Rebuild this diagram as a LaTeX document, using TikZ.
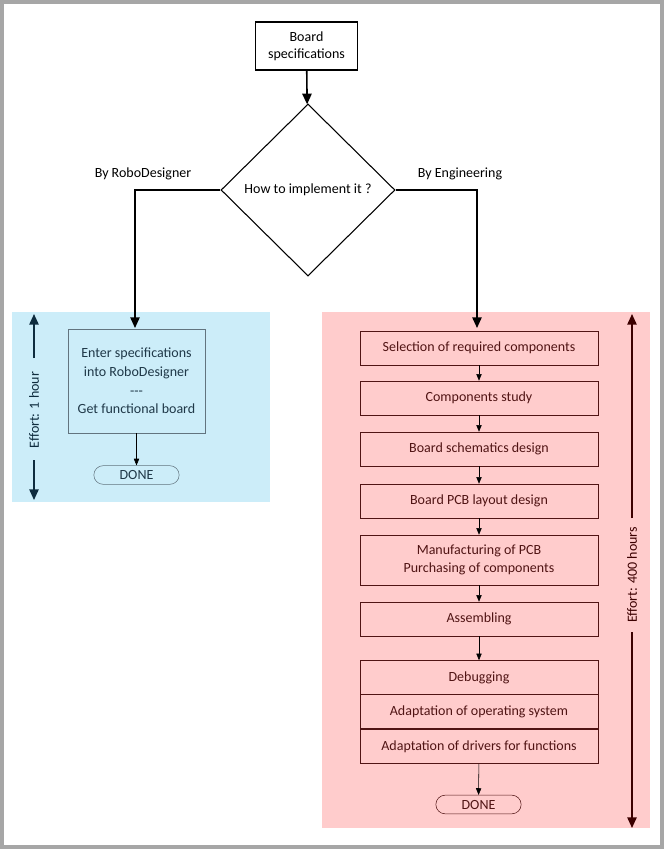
\documentclass[tikz,border=0pt]{standalone}
\usepackage{fontspec}
\setmainfont{Carlito}
\usetikzlibrary{shapes.geometric,arrows.meta}
\definecolor{bluebg}{RGB}{204,237,249}
\definecolor{pinkbg}{RGB}{255,204,204}
\definecolor{bluetxt}{RGB}{31,56,72}
\definecolor{redtxt}{RGB}{80,20,20}
\definecolor{effblue}{RGB}{14,44,62}
\definecolor{effred}{RGB}{60,0,0}
\begin{document}
\begin{tikzpicture}
	[x=0.75pt, y=-0.75pt, font=\fontsize{10.5}{13}\selectfont,
	 main/.style ={draw, thick, align=center, inner sep=0pt},
	 stage/.style ={draw=redtxt, text=redtxt, align=center, inner sep=0pt, minimum width=178.5pt, minimum height=25.5pt},
	 done/.style ={draw, rounded corners=7pt, inner sep=0pt, minimum width=64pt, minimum height=14pt},
	 thin arrow/.style ={-{Triangle[length=5pt,width=4pt]}},
	 thick arrow/.style ={very thick, -{Triangle[length=8pt,width=7pt]}}]
	\useasboundingbox (0,0) rectangle (665,850);
	\draw[gray!70, line width=2.5pt] (2,2) rectangle (662,847);
	% top part
	\node[main, minimum width=77pt, minimum height=36pt] (spec) at (306.5,46) {Board\\specifications};
	\node[main, diamond, minimum width=130.5pt, minimum height=129pt] (how) at (308,190) {How to implement it ?};
	\draw[thick arrow] (spec) -- (how);
	\fill[bluebg] (12,312) rectangle (270,502);
	\fill[pinkbg] (322,312) rectangle (650,828);
	\coordinate (lt) at (135,328);
	\coordinate (rt) at (477,328);
	\draw[thick arrow] (how.west) -| (lt);
	\draw[thick arrow] (how.east) -| (rt);
	\node at (143,174) {By RoboDesigner};
	\node at (460,174) {By Engineering};
	% RoboDesigner side
	\node[draw=bluetxt!70, text=bluetxt, align=center, minimum width=102.75pt, minimum height=78pt, font=\fontsize{10.5}{14}\selectfont] (enter) at (136.5,381) {Enter specifications\\into RoboDesigner\\{-}{-}{-}\\Get functional board};
	\node[done, draw=bluetxt!70, text=bluetxt] (done1) at (136.5,475) {DONE};
	\draw[thin arrow] (enter) -- (done1);
	\node[rotate=90, text=effblue] (eff1) at (34,410) {Effort: 1 hour};
	\coordinate (e1a) at (34,314);
	\coordinate (e1b) at (34,500);
	\draw[effblue, very thick, -{Triangle[length=8pt,width=7pt]}] (34,358) -- (e1a);
	\draw[effblue, very thick, -{Triangle[length=8pt,width=7pt]}] (34,460) -- (e1b);
	% Engineering side
	\node[stage] (s1) at (479,348) {Selection of required components};
	\node[stage] (s2) at (479,398) {Components study};
	\node[stage] (s3) at (479,449) {Board schematics design};
	\node[stage] (s4) at (479,501) {Board PCB layout design};
	\node[stage, minimum height=37.5pt] (s5) at (479,560) {Manufacturing of PCB\\Purchasing of components};
	\node[stage] (s6) at (479,619) {Assembling};
	\node[stage] (s7) at (479,677.5) {Debugging};
	\node[stage] (s8) at (479,711.5) {Adaptation of operating system};
	\node[stage] (s9) at (479,746.5) {Adaptation of drivers for functions};
	\node[done, draw=redtxt, text=redtxt] (done2) at (478.5,804.5) {DONE};
	\foreach \a/\b in {s1/s2, s2/s3, s3/s4, s4/s5, s5/s6, s6/s7, s9/done2}
		\draw[thin arrow] (\a) -- (\b);
	\node[rotate=90, text=effred] (eff2) at (632,575) {Effort: 400 hours};
	\coordinate (e2a) at (632,314);
	\coordinate (e2b) at (632,828);
	\draw[effred, very thick, -{Triangle[length=8pt,width=7pt]}] (632,518) -- (e2a);
	\draw[effred, very thick, -{Triangle[length=8pt,width=7pt]}] (632,632) -- (e2b);
\end{tikzpicture}
\end{document}
